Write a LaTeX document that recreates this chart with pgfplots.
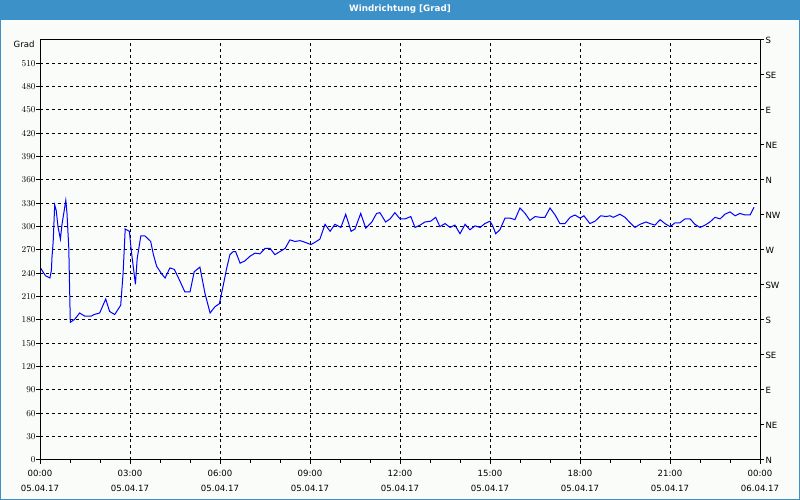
\documentclass[border=0pt]{standalone}
\usepackage{fontspec}
\setmainfont{DejaVu Sans}
\usepackage{pgfplots}
\usepackage{pgfplotstable}
\pgfplotsset{compat=1.18}

\definecolor{barblue}{RGB}{60,145,200}
\definecolor{plotbg}{RGB}{250,252,250}

% wind direction, hours since 05.04.17 00:00
\pgfplotstableread{
h deg
0.00 248
0.18 237
0.33 234
0.38 244
0.40 261
0.44 281
0.49 328
0.54 321
0.60 300
0.68 284
0.73 302
0.80 319
0.86 334
0.90 317
0.96 272
1.01 177
1.16 181
1.32 189
1.49 185
1.71 185
1.80 187
1.99 189
2.19 207
2.32 191
2.49 187
2.69 199
2.77 240
2.84 297
2.98 294
3.04 270
3.12 245
3.18 226
3.24 259
3.36 288
3.50 288
3.69 281
3.78 264
3.89 249
4.06 239
4.17 234
4.33 247
4.48 245
4.64 232
4.83 216
5.00 216
5.14 242
5.33 248
5.50 214
5.67 189
5.83 197
5.98 201
6.11 225
6.22 246
6.33 264
6.44 268
6.52 268
6.67 253
6.83 256
7.00 262
7.17 266
7.33 265
7.50 272
7.67 272
7.83 264
8.00 268
8.17 272
8.33 283
8.50 281
8.67 282
8.83 280
9.03 277
9.17 280
9.33 284
9.50 303
9.67 294
9.83 303
10.03 299
10.19 316
10.37 294
10.50 297
10.69 317
10.86 298
11.06 306
11.22 317
11.33 318
11.52 306
11.67 310
11.83 318
12.00 310
12.17 310
12.36 313
12.50 299
12.67 302
12.83 306
13.02 307
13.19 312
13.33 300
13.50 304
13.67 299
13.83 302
14.00 291
14.17 303
14.33 296
14.50 301
14.67 299
14.83 304
15.00 307
15.09 301
15.19 291
15.33 296
15.50 311
15.67 311
15.83 309
16.00 324
16.17 317
16.33 308
16.50 313
16.67 312
16.83 312
17.00 324
17.17 315
17.33 304
17.50 304
17.67 312
17.83 315
18.00 311
18.13 314
18.33 304
18.50 307
18.69 314
18.87 313
19.00 314
19.11 312
19.33 316
19.50 312
19.67 305
19.83 299
20.00 303
20.20 306
20.33 304
20.50 302
20.67 309
20.83 304
21.00 300
21.17 305
21.33 305
21.50 310
21.67 310
21.83 303
22.00 299
22.17 302
22.33 306
22.50 312
22.67 310
22.83 316
23.00 319
23.17 314
23.33 317
23.50 315
23.67 315
23.80 325
}\winddata

\pgfplotsset{
  windaxis/.style={
    at={(40bp,40bp)}, anchor=south west,
    scale only axis, width=720bp, height=420bp,
    xmin=0, xmax=24, ymin=0, ymax=540,
    axis line style={black, line width=1bp},
    tick style={black, line width=1bp},
    tick align=outside,
    major tick length=4bp, minor tick length=3bp,
    tick label style={font=\fontsize{8.6}{15}\selectfont, black},
    clip=true,
  }
}

\begin{document}
\begin{tikzpicture}[x=1bp,y=1bp]
\fill[barblue] (0,0) rectangle (800,500);
\fill[plotbg] (1,1) rectangle (799,480);
\node[text=white, font=\bfseries\fontsize{8.8}{10}\selectfont] at (400,491) {Windrichtung [Grad]};

\begin{axis}[windaxis,
  xtick={0,3,...,24},
  minor xtick={1,2,4,5,7,8,10,11,13,14,16,17,19,20,22,23},
  xticklabels={{00:00\\05.04.17},{03:00\\05.04.17},{06:00\\05.04.17},{09:00\\05.04.17},
    {12:00\\05.04.17},{15:00\\05.04.17},{18:00\\05.04.17},{21:00\\05.04.17},{00:00\\06.04.17}},
  xticklabel style={align=center, yshift=-3bp},
  yticklabel style={xshift=3bp},
  ytick={0,30,...,510},
  xtick pos=bottom, ytick pos=left,
  grid=major,
  major grid style={black, dash pattern=on 3bp off 3bp, line width=1bp},
]
\addplot[blue, line width=1bp] table[x=h, y=deg] {\winddata};
\end{axis}

\begin{axis}[windaxis,
  xtick=\empty,
  ytick={0,45,...,540},
  yticklabels={N,NE,E,SE,S,SW,W,NW,N,NE,E,SE,S},
  yticklabel style={xshift=-2bp},
  ytick pos=right, yticklabel pos=right,
]
\end{axis}

\node[anchor=east, font=\fontsize{8.6}{10}\selectfont] at (38,456) {Grad};
\useasboundingbox (0,0) rectangle (800,500);
\end{tikzpicture}
\end{document}
